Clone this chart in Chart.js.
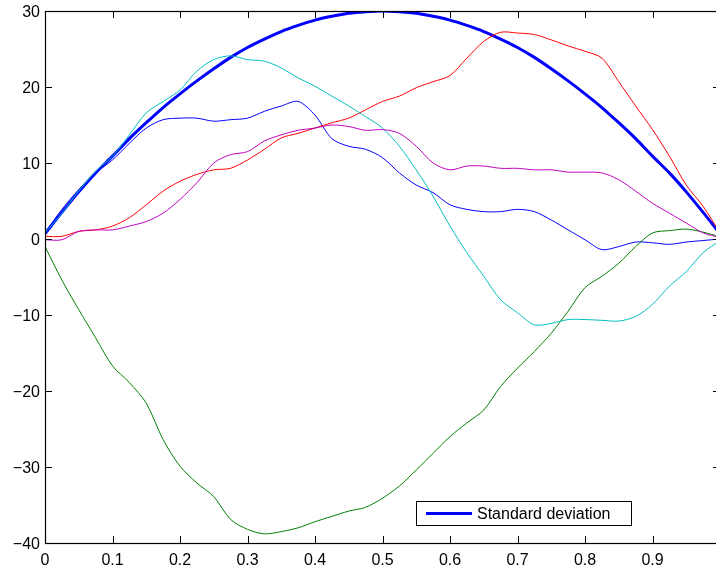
<!DOCTYPE html>
<html>
<head>
<meta charset="utf-8">
<script src="https://cdn.jsdelivr.net/npm/chart.js@4"></script>
<style>
  html, body { margin: 0; padding: 0; background: #fff; overflow: hidden; }
  canvas { display: block; }
</style>
</head>
<body>
<canvas id="chart" width="722" height="567"></canvas>
<script>
// x positions (0 .. 1, step 0.025)
var xs = [0, 0.025, 0.05, 0.075, 0.1, 0.125, 0.15, 0.175, 0.2, 0.225,
          0.25, 0.275, 0.3, 0.325, 0.35, 0.375, 0.4, 0.425, 0.45, 0.475,
          0.5, 0.525, 0.55, 0.575, 0.6, 0.625, 0.65, 0.675, 0.7, 0.725,
          0.75, 0.775, 0.8, 0.825, 0.85, 0.875, 0.9, 0.925, 0.95, 0.975, 1];

var stdDev = [0.7, 3.5, 6.2, 8.7, 10.9, 13.2, 15.3, 17.3, 19.1, 20.8,
              22.4, 23.9, 25.2, 26.3, 27.3, 28.1, 28.8, 29.3, 29.7, 29.9,
              30.0, 29.9, 29.7, 29.3, 28.8, 28.1, 27.3, 26.3, 25.2, 23.9,
              22.4, 20.8, 19.1, 17.3, 15.3, 13.2, 10.9, 8.7, 6.2, 3.5, 0.7];

var pathBlue = [0.8, 3.9, 6.5, 8.7, 10.4, 12.6, 14.6, 15.7, 15.9, 15.9,
                15.5, 15.7, 15.9, 16.8, 17.5, 18.1, 16.3, 13.2, 12.2, 11.8,
                10.7, 8.7, 7.1, 6.1, 4.5, 3.9, 3.6, 3.6, 3.9, 3.6,
                2.5, 1.2, -0.1, -1.4, -1.0, -0.4, -0.5, -0.7, -0.4, -0.2, 0.0];

var pathGreen = [-1.0, -5.4, -9.3, -13.0, -16.7, -18.9, -21.6, -26.4, -29.9, -32.1,
                 -33.9, -36.9, -38.2, -38.8, -38.5, -38.0, -37.2, -36.5, -35.8, -35.3,
                 -34.1, -32.5, -30.4, -28.2, -26.0, -24.2, -22.5, -19.4, -17.0, -14.8,
                 -12.4, -9.5, -6.4, -4.9, -3.2, -1.0, 0.8, 1.1, 1.3, 0.9, 0.3];

var pathRed = [0.35, 0.35, 1.0, 1.2, 1.7, 2.8, 4.5, 6.3, 7.6, 8.5,
               9.1, 9.3, 10.4, 11.8, 13.3, 13.9, 14.6, 15.3, 15.9, 17.0,
               18.1, 18.8, 19.9, 20.7, 21.5, 23.8, 26.0, 27.2, 27.1, 26.9,
               26.2, 25.4, 24.7, 23.8, 20.7, 17.5, 14.4, 10.9, 7.1, 4.3, 0.8];

var pathCyan = [0.8, 3.4, 6.3, 8.9, 10.9, 13.7, 16.6, 18.1, 19.6, 22.1,
                23.6, 24.1, 23.6, 23.4, 22.5, 21.2, 20.1, 18.8, 17.5, 16.1,
                14.6, 12.2, 9.1, 5.6, 1.7, -1.8, -4.9, -8.0, -9.7, -11.3,
                -11.1, -10.6, -10.6, -10.7, -10.8, -10.2, -8.6, -6.2, -4.3, -1.8, -0.2];

var pathMagenta = [-0.1, -0.1, 1.0, 1.2, 1.2, 1.7, 2.3, 3.4, 5.2, 7.4,
                   10.0, 11.1, 11.5, 12.9, 13.7, 14.3, 14.6, 15.0, 14.8, 14.3,
                   14.4, 13.9, 12.2, 10.0, 9.1, 9.6, 9.6, 9.3, 9.3, 9.1,
                   9.1, 8.8, 8.8, 8.7, 7.8, 6.3, 4.7, 3.4, 2.1, 0.8, 0.2];

var legendLabel = 'Standard deviation';
var FONT = "'Liberation Sans', Arial, Helvetica, sans-serif";

function pts(ys) {
    return xs.map(function(x, i) { return { x: x, y: ys[i] }; });
}

function thin(data, color, order) {
    return {
        data: pts(data),
        borderColor: color,
        borderWidth: 1,
        pointRadius: 0,
        tension: 0.3,
        fill: false,
        order: order
    };
}

function minus(v) {
    return String(v).replace('-', '\u2212');
}

// box, inward ticks and legend, matlab style
var axesBox = {
    id: 'axesBox',
    afterDatasetsDraw: function(chart) {
        var ctx = chart.ctx;
        var a = chart.chartArea;
        var sx = chart.scales.x, sy = chart.scales.y;
        ctx.save();
        ctx.strokeStyle = '#000';
        ctx.lineWidth = 1.2;
        ctx.strokeRect(a.left + 0.5, a.top + 0.5, a.right - a.left, a.bottom - a.top);
        ctx.lineWidth = 1;
        ctx.beginPath();
        sx.ticks.forEach(function(t) {
            var px = Math.round(sx.getPixelForValue(t.value)) + 0.5;
            ctx.moveTo(px, a.bottom); ctx.lineTo(px, a.bottom - 7);
            ctx.moveTo(px, a.top); ctx.lineTo(px, a.top + 7);
        });
        sy.ticks.forEach(function(t) {
            var py = Math.round(sy.getPixelForValue(t.value)) + 0.5;
            ctx.moveTo(a.left, py); ctx.lineTo(a.left + 7, py);
            ctx.moveTo(a.right, py); ctx.lineTo(a.right - 7, py);
        });
        ctx.stroke();

        // legend
        var lx = 416.5, ly = 501.5, lw = 215, lh = 24;
        ctx.fillStyle = '#fff';
        ctx.fillRect(lx, ly, lw, lh);
        ctx.strokeStyle = '#000';
        ctx.strokeRect(lx, ly, lw, lh);
        ctx.strokeStyle = '#0000ff';
        ctx.lineWidth = 3;
        ctx.beginPath();
        ctx.moveTo(426, ly + lh / 2);
        ctx.lineTo(472, ly + lh / 2);
        ctx.stroke();
        ctx.fillStyle = '#000';
        ctx.font = '16px ' + FONT;
        ctx.textBaseline = 'middle';
        ctx.fillText(legendLabel, 477, ly + lh / 2 + 1);
        ctx.restore();
    }
};

var ctx = document.getElementById('chart').getContext('2d');
var chart = new Chart(ctx, {
    type: 'line',
    data: {
        datasets: [
            {
                label: legendLabel,
                data: pts(stdDev),
                borderColor: '#0000ff',
                borderWidth: 3,
                pointRadius: 0,
                tension: 0.3,
                fill: false,
                order: 10
            },
            thin(pathBlue, '#0000ff', 9),
            thin(pathGreen, '#008000', 8),
            thin(pathRed, '#ff0000', 7),
            thin(pathCyan, '#00bfbf', 6),
            thin(pathMagenta, '#bf00bf', 5)
        ]
    },
    options: {
        responsive: false,
        animation: false,
        devicePixelRatio: 1,
        layout: { padding: { top: 11, right: 2, left: 0, bottom: 0 } },
        plugins: {
            legend: { display: false },
            tooltip: { enabled: false }
        },
        scales: {
            x: {
                type: 'linear',
                min: 0,
                max: 1,
                grid: { display: false, drawTicks: false },
                border: { display: false },
                afterFit: function(s) {
                    s.height = 24;
                    s.paddingLeft = 0;
                    s.paddingRight = 0;
                },
                ticks: {
                    stepSize: 0.1,
                    padding: 8,
                    color: '#000',
                    font: { family: FONT, size: 16 },
                    maxRotation: 0,
                    callback: function(v) {
                        var r = Math.round(v * 10) / 10;
                        if (r === 1) return '';
                        return r === 0 ? '0' : String(r);
                    }
                }
            },
            y: {
                min: -40,
                max: 30,
                grid: { display: false, drawTicks: false },
                border: { display: false },
                afterFit: function(s) {
                    s.width = 45;
                    s.paddingTop = 0;
                    s.paddingBottom = 0;
                },
                ticks: {
                    stepSize: 10,
                    padding: 5,
                    labelOffset: 2,
                    color: '#000',
                    font: { family: FONT, size: 16 },
                    callback: function(v) { return minus(v); }
                }
            }
        }
    },
    plugins: [axesBox]
});
</script>
</body>
</html>
